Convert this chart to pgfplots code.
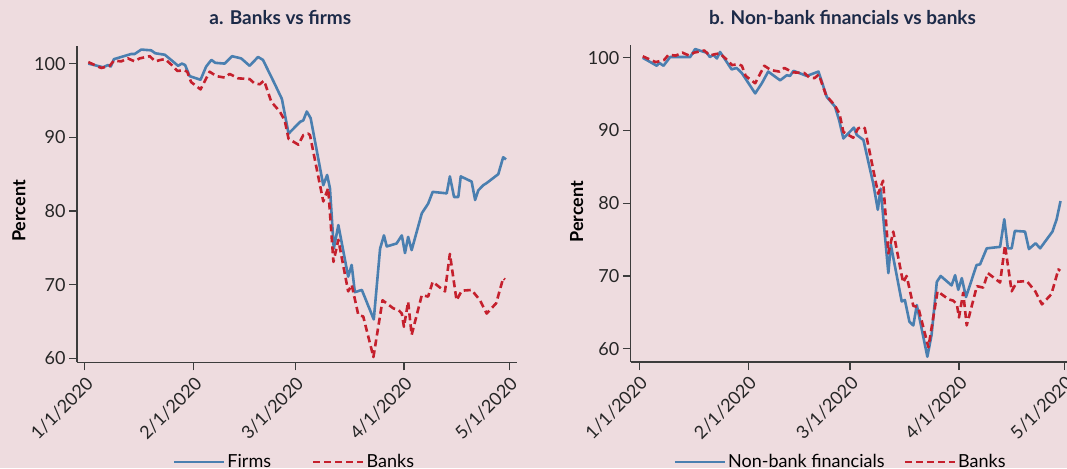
\documentclass[border=0pt]{standalone}
\usepackage{pgfplots}
\usepackage{pgfplotstable}
\pgfplotsset{compat=1.18}
\usepackage{fontspec}
\setmainfont{Lato}
\definecolor{bg}{RGB}{238,220,223}
\definecolor{fblue}{RGB}{74,127,176}
\definecolor{bred}{RGB}{197,32,45}
\definecolor{navy}{RGB}{28,42,72}
\definecolor{axgray}{RGB}{60,60,60}

\pgfplotstableread{
day val
1 100.0
5.2 99.5
6.6 99.8
7.4 99.6
8.3 100.6
13.2 101.3
14.2 101.3
16.1 101.9
18.9 101.8
20.1 101.4
22.8 101.2
24.6 100.5
26.6 99.7
27.7 100.0
28.6 99.8
29.9 98.3
33.0 97.8
34.6 99.6
36.1 100.5
37.2 100.1
39.9 100.0
42.0 101.0
44.6 100.7
47.0 99.7
49.4 100.9
50.8 100.5
54.1 97.3
56.2 95.2
58.1 90.5
61.4 92.1
62.3 92.3
63.3 93.5
64.4 92.6
68.0 83.5
69.1 84.9
69.9 83.1
71.0 74.9
72.3 78.1
75.1 71.1
76.1 72.7
77.0 69.0
79.0 69.3
82.4 65.3
84.2 74.9
85.3 76.7
86.1 75.2
88.9 75.6
90.4 76.7
91.3 74.3
92.2 76.5
93.2 74.7
96.1 79.7
97.9 81.0
99.2 82.6
103.2 82.4
104.1 84.7
105.3 81.9
106.5 81.9
107.2 84.7
110.3 84.0
111.3 81.5
112.2 82.8
113.6 83.5
114.6 83.8
117.9 85.0
119.3 87.3
120.1 87.0
}\firms

\pgfplotstableread{
day val
1 100.2
4.7 99.4
7.1 99.7
8.3 100.4
10.4 100.3
12.3 100.7
14.2 100.3
15.6 100.7
18.5 101.0
20.1 100.3
21.6 100.5
22.9 100.6
24.8 99.8
26.4 99.0
28.3 99.1
29.2 98.9
30.3 97.5
33.0 96.5
35.6 98.9
37.5 98.3
39.9 98.1
41.3 98.6
43.7 98.0
47.0 97.9
48.4 97.3
49.9 97.2
51.1 97.7
53.2 94.8
55.6 93.5
57.0 92.3
58.1 89.8
60.9 89.0
62.3 90.3
63.7 90.5
64.2 90.3
68.0 81.3
69.4 83.1
70.9 73.1
72.3 76.1
75.1 69.1
76.1 70.0
78.0 65.9
79.4 65.7
82.3 60.2
84.9 67.9
88.0 66.8
89.4 66.6
90.4 66.1
91.0 64.3
92.2 67.7
93.2 63.2
96.1 68.6
97.9 68.4
99.2 70.4
102.7 69.1
104.1 74.2
106.0 67.9
107.5 69.2
110.3 69.3
112.7 67.9
114.6 66.1
117.3 67.5
119.3 70.9
119.8 70.7
}\banks

\pgfplotstableread{
day val
1 100.0
5.0 98.9
5.7 99.3
6.9 98.9
8.8 100.1
14.5 100.1
15.9 101.2
17.8 100.9
19.2 100.7
20.1 100.1
21.1 100.4
22.1 99.9
23.0 100.8
26.3 98.4
27.7 98.6
29.2 97.9
33.0 95.1
34.9 96.5
36.7 98.1
40.1 96.9
42.0 97.6
42.9 97.5
43.9 98.2
47.7 97.5
51.0 98.1
53.4 94.6
55.7 93.3
56.9 91.4
58.1 88.9
61.1 90.4
61.9 89.4
63.8 88.7
66.6 82.7
67.9 79.1
68.7 82.0
70.9 70.4
71.6 74.3
74.7 66.5
75.6 66.7
76.9 63.7
78.0 63.2
79.0 66.0
82.0 58.9
83.2 61.9
84.7 69.2
85.8 70.0
88.9 68.7
89.9 70.1
90.8 68.1
91.8 69.7
93.0 67.1
96.0 71.5
97.0 71.6
98.9 73.8
102.7 74.0
103.9 77.8
104.9 73.8
106.0 73.8
106.9 76.2
109.8 76.1
110.9 73.7
112.8 74.5
114.1 73.8
117.6 76.1
118.8 77.8
119.9 80.3
}\nbfi

\pgfplotsset{
  mystyle/.style={
    scale only axis,
    axis lines*=left,
    axis line style={axgray, line width=1.3pt},
    every tick/.style={axgray, line width=1.2pt},
    tick align=outside,
    major tick length=8pt,
    xtick={0,31,60,91,121},
    xticklabels={1/1/2020,2/1/2020,3/1/2020,4/1/2020,5/1/2020},
    ytick={60,70,80,90,100},
    tick label style={font=\fontsize{18}{20}\selectfont, text=black!85},
    xticklabel style={rotate=45, anchor=north east},
    /pgf/number format/assume math mode=true,
    ylabel={Percent},
    title style={font=\fontsize{19}{22}\selectfont\bfseries, text=navy, anchor=base},
    legend style={draw=none, fill=none, font=\fontsize{18}{20}\selectfont, anchor=center},
    legend columns=2,
    legend image code/.code={\draw[#1] (0pt,0pt) -- (50pt,0pt);},
  },
  firmline/.style={fblue, line width=2.6pt, line join=round},
  bankline/.style={bred, line width=2.6pt, line join=round, dash pattern=on 7pt off 4pt},
}

\begin{document}
\begin{tikzpicture}
\fill[bg] (0,0) rectangle (1067pt,468pt);

\begin{axis}[mystyle,
  at={(77.1pt,105.5pt)}, anchor=south west,
  width=440.1pt, height=316.9pt,
  xmin=-2.2, xmax=123.3, ymin=59.46, ymax=102.44,
  title={a. Banks vs firms},
  title style={at={(axis description cs:0.4617,1.048)}},
  ylabel style={font=\fontsize{18}{20}\selectfont\bfseries, at={(axis description cs:-0.132,0.478)}, anchor=center},
  legend style={at={(axis description cs:0.494,-0.314)}},
  legend style={/tikz/every even column/.append style={column sep=39pt}},
]
\addplot[firmline] table[x=day,y=val]{\firms};
\addlegendentry{Firms}
\addplot[bankline] table[x=day,y=val]{\banks};
\addlegendentry{Banks}
\end{axis}

\begin{axis}[mystyle,
  at={(630.8pt,105.9pt)}, anchor=south west,
  width=440.6pt, height=316.7pt,
  xmin=-2.4, xmax=123, ymin=58.16, ymax=101.7,
  title={b. Non-bank financials vs banks},
  title style={at={(axis description cs:0.4805,1.048)}},
  ylabel style={font=\fontsize{18}{20}\selectfont\bfseries, at={(axis description cs:-0.123,0.475)}, anchor=center},
  legend style={at={(axis description cs:0.476,-0.315)}},
  legend style={/tikz/every even column/.append style={column sep=17pt}},
]
\addplot[firmline] table[x=day,y=val]{\nbfi};
\addlegendentry{Non-bank financials}
\addplot[bankline] table[x=day,y=val]{\banks};
\addlegendentry{Banks}
\end{axis}

\pgfresetboundingbox
\useasboundingbox (0,0) rectangle (1067pt,468pt);
\end{tikzpicture}
\end{document}
